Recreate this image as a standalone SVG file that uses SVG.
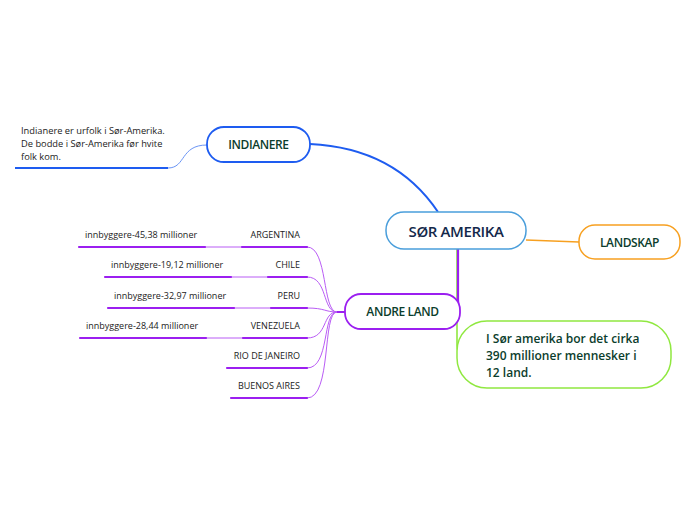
<svg xmlns="http://www.w3.org/2000/svg" width="696" height="520" viewBox="0 0 696 520">
<style>
.t{font-family:"Open Sans","Noto Sans",sans-serif;fill:#0b3d2c;font-weight:600;letter-spacing:-0.4px}
.s{font-family:"Open Sans","Noto Sans",sans-serif;fill:#222;font-size:9px}
.ul{stroke:#9b1ff0;stroke-width:2.2;fill:none;stroke-linecap:round}
.tl{stroke:#b95cf5;stroke-width:1;fill:none}
</style>
<rect width="696" height="520" fill="#fff"/>
<g id="connectors">
<path d="M438,212 Q395,148 310,144" stroke="#1e5cf0" stroke-width="2" fill="none"/>
<path d="M168,168 C186,168 180,145 207,145" stroke="#6a94f5" stroke-width="1" fill="none"/>
<path d="M526,240 L579,242" stroke="#f7a020" stroke-width="1.3" fill="none"/>
<path d="M457,249 L457,345 Q457,354 462,355" stroke="#90e840" stroke-width="1.6" fill="none"/>
<path d="M458,249 L458,300 Q459,310 455,312" stroke="#9b1ff0" stroke-width="2.2" fill="none"/>
<g class="tl">
<path d="M205,247 L242,247"/><path d="M231,277 L268,277"/><path d="M234,308 L271,308"/><path d="M206,338 L243,338"/>
<path d="M307,247 C328,247 322,312 337,312"/>
<path d="M307,277 C328,277 322,312 337,312"/>
<path d="M307,308 C325,308 325,312 337,312"/>
<path d="M307,338 C328,338 322,312 337,312"/>
<path d="M307,368 C330,368 322,312 337,312"/>
<path d="M307,398 C332,398 322,312 337,312"/>
</g>
<path d="M337,312 L345,312" stroke="#9b1ff0" stroke-width="2" fill="none"/>
</g>
<g id="main">
<rect x="386" y="212" width="140" height="37" rx="18" fill="#fff" stroke="#4a9edb" stroke-width="1.5"/>
<text class="t" x="456" y="236.5" font-size="15" text-anchor="middle" style="fill:#13284a">SØR AMERIKA</text>
</g>
<g id="landskap">
<rect x="579" y="225" width="101" height="34" rx="16" fill="#fff" stroke="#f7a020" stroke-width="1.5"/>
<text class="t" x="629.5" y="246.5" font-size="12" text-anchor="middle">LANDSKAP</text>
</g>
<g id="info">
<rect x="457" y="321" width="214" height="67" rx="30" fill="#fff" stroke="#90e840" stroke-width="1.5"/>
<text class="t" font-size="12" style="letter-spacing:0"><tspan x="486" y="343">I Sør amerika bor det cirka</tspan><tspan x="486" y="360">390 millioner mennesker i</tspan><tspan x="486" y="377">12 land.</tspan></text>
</g>
<g id="andreland">
<rect x="345" y="294" width="115" height="35" rx="16" fill="#fff" stroke="#9b1ff0" stroke-width="1.8"/>
<text class="t" x="402.5" y="316" font-size="12" text-anchor="middle">ANDRE LAND</text>
</g>
<g id="indianere">
<rect x="207" y="127" width="103" height="35" rx="17" fill="#fff" stroke="#1e5cf0" stroke-width="1.8"/>
<text class="t" x="258.5" y="149" font-size="12" text-anchor="middle">INDIANERE</text>
</g>
<g id="indianere-note">
<text class="s" style="font-size:9.3px"><tspan x="21" y="134">Indianere er urfolk i Sør-Amerika.</tspan><tspan x="21" y="147">De bodde i Sør-Amerika før hvite</tspan><tspan x="21" y="160">folk kom.</tspan></text>
<path d="M15,168 L168,168" stroke="#1e5cf0" stroke-width="2.2" fill="none"/>
</g>
<g id="argentina">
<text class="s" x="300" y="238" text-anchor="end">ARGENTINA</text>
<path class="ul" d="M242,247 L307,247"/>
</g>
<g id="argentina-pop">
<text class="s" x="85" y="238">innbyggere-45,38 millioner</text>
<path class="ul" d="M79,247 L205,247"/>
</g>
<g id="chile">
<text class="s" x="300" y="268" text-anchor="end">CHILE</text>
<path class="ul" d="M268,277 L307,277"/>
</g>
<g id="chile-pop">
<text class="s" x="111" y="268">innbyggere-19,12 millioner</text>
<path class="ul" d="M105,277 L231,277"/>
</g>
<g id="peru">
<text class="s" x="300" y="299" text-anchor="end">PERU</text>
<path class="ul" d="M271,308 L307,308"/>
</g>
<g id="peru-pop">
<text class="s" x="114" y="299">innbyggere-32,97 millioner</text>
<path class="ul" d="M108,308 L234,308"/>
</g>
<g id="venezuela">
<text class="s" x="300" y="329" text-anchor="end">VENEZUELA</text>
<path class="ul" d="M243,338 L307,338"/>
</g>
<g id="venezuela-pop">
<text class="s" x="86" y="329">innbyggere-28,44 millioner</text>
<path class="ul" d="M80,338 L206,338"/>
</g>
<g id="rio">
<text class="s" x="300" y="359" text-anchor="end">RIO DE JANEIRO</text>
<path class="ul" d="M227,368 L307,368"/>
</g>
<g id="buenos">
<text class="s" x="300" y="389" text-anchor="end">BUENOS AIRES</text>
<path class="ul" d="M231,398 L307,398"/>
</g>
</svg>
